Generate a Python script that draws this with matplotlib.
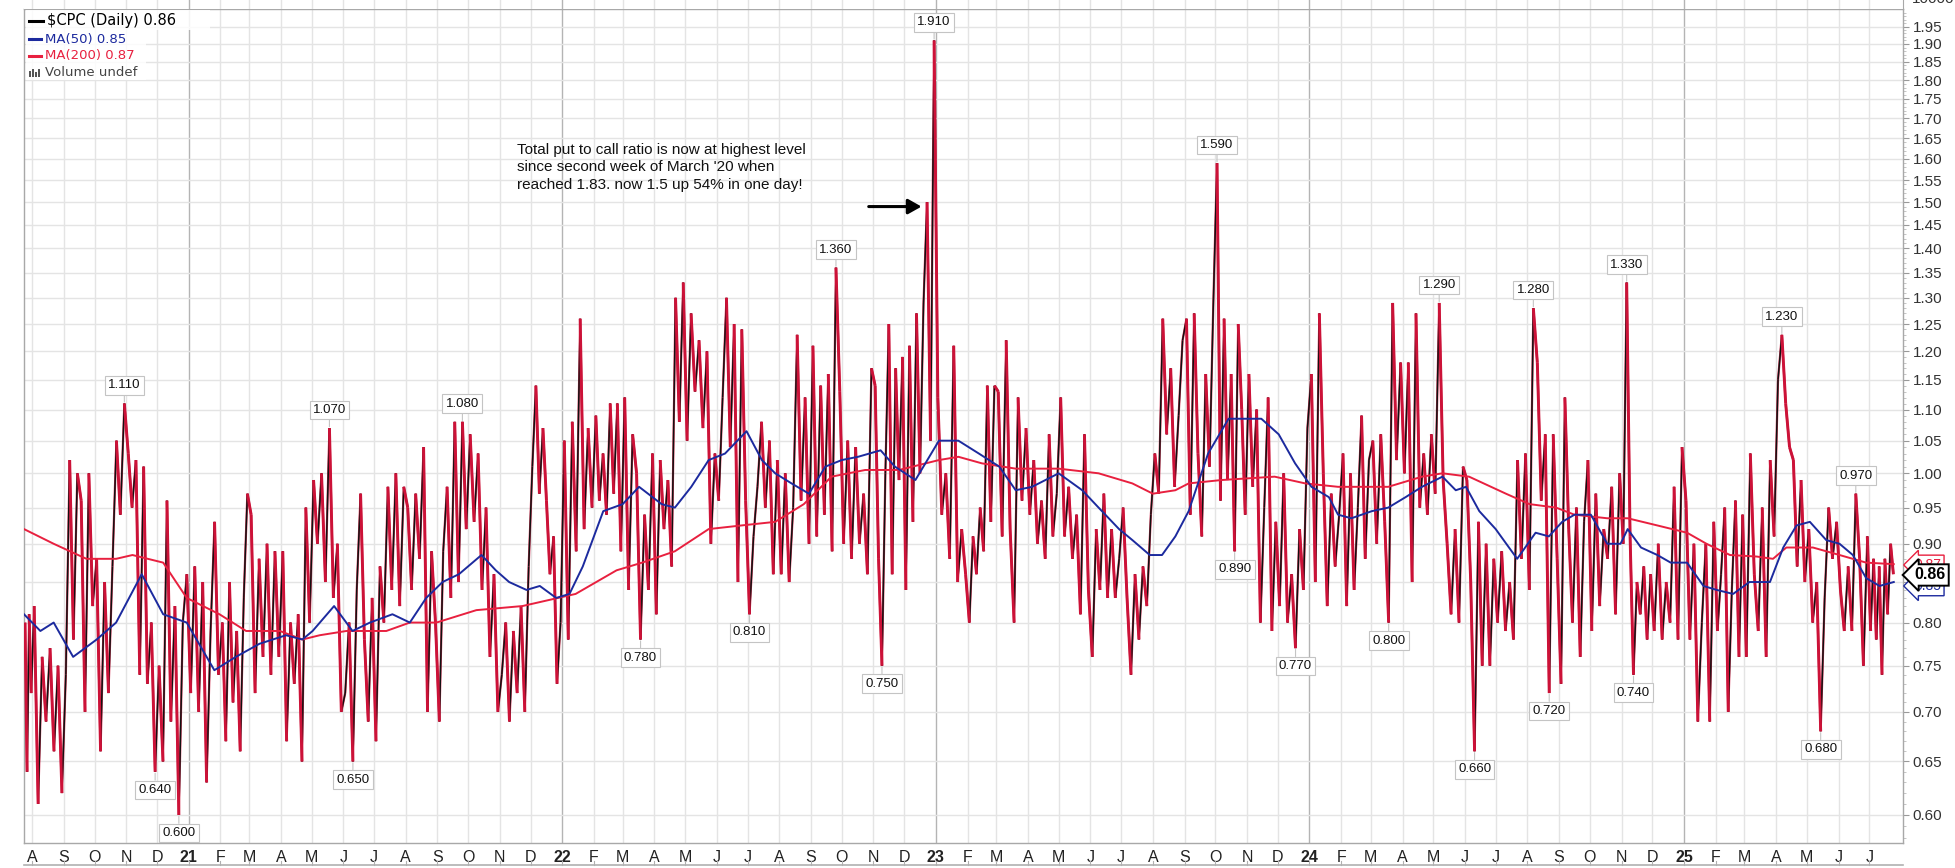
import numpy as np
import pandas as pd
import matplotlib.pyplot as plt
import matplotlib.dates as mdates
import matplotlib.transforms as mtransforms
from matplotlib.collections import LineCollection
from matplotlib.lines import Line2D
from matplotlib.patches import Rectangle
from matplotlib.ticker import FixedLocator, NullFormatter, FuncFormatter

# $CPC daily (one list per month)
first_day = pd.Timestamp('2020-07-24')
last_day = pd.Timestamp('2025-07-26')

cpc_2020 = [
    [0.80, 0.64, 0.81, 0.72],
    [0.82, 0.61, 0.76, 0.69, 0.77, 0.66, 0.75, 0.62],
    [0.74, 1.02, 0.78, 1.00, 0.96, 0.70, 1.00, 0.82],
    [0.88, 0.66, 0.85, 0.72, 0.87, 1.05, 0.94, 1.11],
    [1.03, 0.95, 1.02, 0.74, 1.01, 0.73, 0.80, 0.64],
    [0.75, 0.65, 0.96, 0.69, 0.82, 0.60, 0.80, 0.86],
]
cpc_2021 = [
    [0.72, 0.87, 0.70, 0.85, 0.63, 0.79, 0.93, 0.74],
    [0.80, 0.67, 0.85, 0.71, 0.79, 0.66, 0.83, 0.97],
    [0.94, 0.72, 0.88, 0.76, 0.90, 0.74, 0.89, 0.76],
    [0.89, 0.67, 0.80, 0.73, 0.81, 0.65, 0.95, 0.80],
    [0.99, 0.90, 1.00, 0.85, 1.07, 0.83, 0.90, 0.70],
    [0.72, 0.80, 0.65, 0.84, 0.97, 0.78, 0.69, 0.83],
    [0.67, 0.87, 0.80, 0.98, 0.84, 1.00, 0.82, 0.98],
    [0.95, 0.84, 0.97, 0.88, 1.04, 0.70, 0.89, 0.80],
    [0.69, 0.89, 0.98, 0.83, 1.08, 0.85, 1.08, 0.92],
    [1.06, 0.93, 1.03, 0.84, 0.95, 0.76, 0.86, 0.70],
    [0.74, 0.80, 0.69, 0.79, 0.72, 0.82, 0.70, 0.87],
    [1.01, 1.14, 0.97, 1.07, 0.96, 0.86, 0.91, 0.73, 0.80],
]
cpc_2022 = [
    [1.05, 0.78, 1.08, 0.89, 1.26, 0.92, 1.07, 0.95],
    [1.09, 0.96, 1.03, 0.94, 1.11, 0.97, 1.11, 0.89],
    [1.12, 0.84, 1.06, 1.00, 0.78, 0.94, 0.84, 1.03],
    [0.81, 1.02, 0.92, 0.99, 0.87, 1.30, 1.08, 1.33],
    [1.05, 1.27, 1.13, 1.22, 1.07, 1.20, 0.90, 1.03],
    [0.96, 1.12, 1.30, 1.04, 1.25, 0.85, 1.24, 0.96],
    [0.81, 0.91, 0.98, 1.08, 0.95, 1.05, 0.86, 1.02],
    [0.86, 1.00, 0.85, 0.95, 1.23, 0.96, 1.12, 0.90],
    [1.21, 0.91, 1.14, 0.94, 1.16, 0.89, 1.36, 1.13],
    [0.90, 1.05, 0.88, 1.04, 0.90, 0.97, 0.86, 1.17],
    [1.14, 0.88, 0.75, 1.00, 1.25, 0.86, 1.17, 0.99, 1.19],
    [0.84, 1.21, 0.93, 1.27, 1.00, 1.29, 1.50, 1.05, 1.91],
]
cpc_2023 = [
    [1.12, 0.94, 1.00, 0.88, 1.21, 0.85, 0.92, 0.86],
    [0.80, 0.91, 0.86, 0.95, 0.89, 1.14, 0.93, 1.14],
    [1.13, 0.91, 1.22, 0.92, 0.80, 1.12, 0.96, 1.07],
    [0.94, 1.02, 0.90, 0.96, 0.88, 1.06, 0.91, 0.97],
    [1.12, 0.91, 0.98, 0.88, 0.94, 0.81, 1.06, 0.84],
    [0.76, 0.92, 0.84, 0.97, 0.83, 0.92, 0.83, 0.88],
    [0.95, 0.83, 0.74, 0.86, 0.78, 0.87, 0.82, 0.94],
    [1.03, 0.97, 1.26, 1.06, 1.17, 0.98, 1.09, 1.22],
    [1.26, 0.94, 1.27, 1.03, 0.91, 1.16, 1.01, 1.29],
    [1.59, 0.96, 1.26, 0.99, 1.16, 0.89, 1.25, 1.10, 0.94],
    [1.16, 0.98, 1.10, 0.80, 0.95, 1.12, 0.79, 0.93],
    [0.82, 1.00, 0.80, 0.86, 0.77, 0.92, 0.84, 1.07],
]
cpc_2024 = [
    [1.16, 0.85, 1.27, 1.00, 0.82, 0.97, 0.87, 0.94],
    [1.03, 0.82, 1.00, 0.84, 0.95, 1.09, 0.88, 1.02],
    [1.05, 0.90, 1.06, 0.93, 0.80, 1.29, 1.02, 1.18],
    [1.00, 1.18, 0.85, 1.27, 0.95, 1.03, 0.94, 1.06],
    [0.97, 1.29, 0.99, 0.90, 0.81, 0.92, 0.80, 1.01],
    [0.99, 0.85, 0.66, 0.93, 0.75, 0.90, 0.75, 0.88],
    [0.80, 0.89, 0.79, 0.85, 0.78, 1.02, 0.88, 1.03],
    [0.84, 1.28, 1.18, 0.96, 1.06, 0.72, 1.06, 0.88],
    [0.73, 1.12, 0.92, 0.80, 0.95, 0.76, 0.93, 1.02],
    [0.79, 0.97, 0.82, 0.92, 0.88, 0.98, 0.81, 1.00],
    [0.90, 1.33, 0.91, 0.74, 0.85, 0.81, 0.87, 0.78, 0.86],
    [0.79, 0.90, 0.78, 0.85, 0.80, 0.98, 0.78, 1.04],
]
cpc_2025 = [
    [0.96, 0.78, 0.90, 0.69, 0.80, 0.90, 0.69, 0.93],
    [0.79, 0.86, 0.95, 0.70, 0.84, 0.96, 0.76, 0.94],
    [0.76, 1.03, 0.86, 0.79, 0.95, 0.76, 1.02, 0.91],
    [1.15, 1.23, 1.11, 1.04, 1.02, 0.87, 0.99, 0.85],
    [0.92, 0.80, 0.85, 0.68, 0.83, 0.95, 0.88, 0.93],
    [0.84, 0.79, 0.87, 0.79, 0.97, 0.88, 0.75, 0.91],
    [0.79, 0.88, 0.78, 0.87, 0.74, 0.88, 0.81, 0.90, 0.86],
]

ma50_dates = [
    '2020-07-24', '2020-08-09', '2020-08-22', '2020-09-10', '2020-10-03', '2020-10-22',
    '2020-11-16', '2020-12-07', '2020-12-30', '2021-01-26', '2021-02-16', '2021-03-11',
    '2021-04-06', '2021-04-22', '2021-05-02', '2021-05-23', '2021-06-10', '2021-06-27',
    '2021-07-19', '2021-08-05', '2021-08-21', '2021-09-06', '2021-09-22', '2021-10-14',
    '2021-10-28', '2021-11-10', '2021-11-27', '2021-12-10', '2021-12-26', '2022-01-08',
    '2022-01-21', '2022-02-10', '2022-03-01', '2022-03-17', '2022-04-08', '2022-04-21',
    '2022-05-07', '2022-05-24', '2022-06-09', '2022-06-30', '2022-07-15', '2022-07-28',
    '2022-08-13', '2022-08-30', '2022-09-15', '2022-10-01', '2022-10-17', '2022-11-08',
    '2022-11-22', '2022-12-12', '2023-01-04', '2023-01-23', '2023-02-12', '2023-03-04',
    '2023-03-20', '2023-04-05', '2023-05-01', '2023-05-24', '2023-06-09', '2023-06-29',
    '2023-07-12', '2023-07-29', '2023-08-10', '2023-08-23', '2023-09-05', '2023-09-24',
    '2023-10-14', '2023-11-02', '2023-11-15', '2023-12-02', '2023-12-18', '2024-01-03',
    '2024-01-20', '2024-01-29', '2024-02-11', '2024-03-02', '2024-03-18', '2024-04-04',
    '2024-04-20', '2024-05-10', '2024-05-23', '2024-06-02', '2024-06-15', '2024-07-01',
    '2024-07-14', '2024-07-22', '2024-08-09', '2024-08-22', '2024-09-04', '2024-09-16',
    '2024-10-02', '2024-10-18', '2024-10-31', '2024-11-07', '2024-11-20', '2024-12-06',
    '2024-12-19', '2025-01-04', '2025-01-20', '2025-02-02', '2025-02-18', '2025-03-06',
    '2025-03-26', '2025-04-08', '2025-04-21', '2025-05-04', '2025-05-20', '2025-06-02',
    '2025-06-15', '2025-06-28', '2025-07-11', '2025-07-25',
]
ma50_values = [
    0.81, 0.79, 0.80, 0.76, 0.78, 0.80,
    0.86, 0.81, 0.80, 0.745, 0.76, 0.775,
    0.785, 0.78, 0.79, 0.82, 0.79, 0.80,
    0.81, 0.80, 0.83, 0.85, 0.86, 0.885,
    0.865, 0.85, 0.84, 0.845, 0.83, 0.835,
    0.87, 0.945, 0.955, 0.98, 0.955, 0.95,
    0.98, 1.02, 1.03, 1.065, 1.02, 1.00,
    0.985, 0.97, 1.01, 1.02, 1.025, 1.035,
    1.01, 0.99, 1.05, 1.05, 1.03, 1.01,
    0.975, 0.98, 1.00, 0.975, 0.95, 0.92,
    0.905, 0.885, 0.885, 0.91, 0.945, 1.03,
    1.085, 1.085, 1.085, 1.06, 1.015, 0.98,
    0.965, 0.94, 0.935, 0.945, 0.95, 0.965,
    0.98, 0.995, 0.975, 0.98, 0.945, 0.92,
    0.895, 0.88, 0.915, 0.91, 0.93, 0.94,
    0.94, 0.90, 0.90, 0.92, 0.895, 0.885,
    0.875, 0.875, 0.845, 0.84, 0.835, 0.85,
    0.85, 0.895, 0.925, 0.93, 0.905, 0.90,
    0.885, 0.855, 0.845, 0.85,
]

ma200_dates = [
    '2020-07-24', '2020-08-22', '2020-09-23', '2020-10-22', '2020-11-07', '2020-12-07',
    '2020-12-30', '2021-01-31', '2021-02-26', '2021-03-31', '2021-04-22', '2021-05-09',
    '2021-06-04', '2021-07-13', '2021-08-05', '2021-08-31', '2021-10-09', '2021-11-23',
    '2022-01-14', '2022-02-23', '2022-03-20', '2022-04-21', '2022-05-24', '2022-06-25',
    '2022-07-28', '2022-08-25', '2022-09-21', '2022-10-24', '2022-11-26', '2023-01-04',
    '2023-01-23', '2023-02-15', '2023-03-20', '2023-05-01', '2023-06-09', '2023-07-12',
    '2023-08-01', '2023-08-23', '2023-09-05', '2023-10-07', '2023-11-28', '2023-12-28',
    '2024-01-29', '2024-03-18', '2024-04-20', '2024-05-10', '2024-06-05', '2024-07-11',
    '2024-08-03', '2024-08-29', '2024-09-16', '2024-10-18', '2024-11-07', '2024-12-06',
    '2025-01-04', '2025-01-23', '2025-02-15', '2025-03-13', '2025-03-29', '2025-04-11',
    '2025-05-07', '2025-06-02', '2025-06-28', '2025-07-25',
]
ma200_values = [
    0.92, 0.90, 0.88, 0.88, 0.885, 0.875,
    0.83, 0.81, 0.79, 0.79, 0.78, 0.785,
    0.79, 0.79, 0.80, 0.80, 0.815, 0.82,
    0.835, 0.865, 0.875, 0.89, 0.92, 0.925,
    0.93, 0.955, 0.995, 1.005, 1.005, 1.02,
    1.025, 1.015, 1.007, 1.007, 1.00, 0.985,
    0.97, 0.975, 0.985, 0.99, 0.995, 0.985,
    0.98, 0.98, 0.995, 1.00, 0.995, 0.97,
    0.955, 0.95, 0.94, 0.935, 0.935, 0.925,
    0.915, 0.90, 0.885, 0.883, 0.88, 0.895,
    0.895, 0.885, 0.875, 0.873,
]

# labelled highs / lows
peak_dates = ['2020-10-28', '2020-11-25', '2020-12-21', '2021-05-17', '2021-06-09',
              '2021-09-25', '2022-03-17', '2022-07-03', '2022-09-24', '2022-11-09',
              '2022-12-29', '2023-10-02', '2023-10-20', '2023-12-17', '2024-03-17',
              '2024-05-06', '2024-06-10', '2024-08-05', '2024-08-21', '2024-11-05',
              '2024-11-12', '2025-04-06', '2025-05-13', '2025-06-17']
peak_values = [1.110, 0.640, 0.600, 1.070, 0.650, 1.080, 0.780, 0.810, 1.360, 0.750,
               1.910, 1.590, 0.890, 0.770, 0.800, 1.290, 0.660, 1.280, 0.720, 1.330,
               0.740, 1.230, 0.680, 0.970]
peak_side = ['up', 'down', 'down', 'up', 'down', 'up', 'down', 'down', 'up', 'down',
             'up', 'up', 'down', 'down', 'down', 'up', 'down', 'up', 'down', 'up',
             'down', 'up', 'down', 'up']

note = ("Total put to call ratio is now at highest level\n"
        "since second week of March '20 when\n"
        "reached 1.83. now 1.5 up 54% in one day!")

RED = '#cc1238'
MA_RED = '#e8203f'
BLUE = '#1c2a9e'
GRID = '#e4e4e4'

# build the dated series from the monthly lists
months = pd.date_range('2020-07-01', '2025-07-01', freq='MS')
chunks = cpc_2020 + cpc_2021 + cpc_2022 + cpc_2023 + cpc_2024 + cpc_2025
dates = []
vals = []
for m0, chunk in zip(months, chunks):
    a = max(m0, first_day)
    b = min(m0 + pd.offsets.MonthBegin(1), last_day)
    step = (b - a) / len(chunk)
    for i, v in enumerate(chunk):
        dates.append(a + step * (i + 0.5))
        vals.append(v)
x = mdates.date2num(pd.DatetimeIndex(dates))
y = np.array(vals)

W, H = 1956, 868
fig = plt.figure(figsize=(W / 100, H / 100), dpi=100)
left, right, top, bottom = 24, 1903, 9, 843
ax = fig.add_axes([left / W, 1 - bottom / H, (right - left) / W, (bottom - top) / H])

ax.set_yscale('log')
ax.set_ylim(0.5754, 2.002)
ax.set_xlim(mdates.date2num(pd.Timestamp('2020-07-24')), mdates.date2num(pd.Timestamp('2025-08-03')))

# grid
ticks = pd.date_range('2020-08-01', '2025-07-01', freq='MS')
tnum = mdates.date2num(ticks)
for t, tn in zip(ticks, tnum):
    ax.axvline(tn, color='#b4b4b4' if t.month == 1 else GRID, lw=1, zorder=0)
yt = np.arange(0.60, 1.951, 0.05)
for v in yt:
    ax.axhline(v, color=GRID, lw=1, zorder=0)

# price line, up moves black, down moves red (red drawn heavier, on top)
pts = np.column_stack([x, y])
segs = np.stack([pts[:-1], pts[1:]], axis=1)
up = y[1:] > y[:-1]
ax.add_collection(LineCollection(segs, colors=RED, linewidths=1.6, zorder=2, alpha=0.85))
ax.add_collection(LineCollection(segs[up], colors='#111111', linewidths=1.1, zorder=2.5))
ax.add_collection(LineCollection(segs[~up], colors=RED, linewidths=2.1, zorder=3))

ax.plot(mdates.date2num(pd.DatetimeIndex(ma200_dates)), ma200_values, color=MA_RED, lw=1.4, zorder=4)
ax.plot(mdates.date2num(pd.DatetimeIndex(ma50_dates)), ma50_values, color=BLUE, lw=1.4, zorder=5)

# peak labels
for d, v, side in zip(peak_dates, peak_values, peak_side):
    dn = mdates.date2num(pd.Timestamp(d))
    near = np.where(np.abs(x - dn) <= 14)[0]
    k = near[np.argmin(np.abs(y[near] - v) + 1e-4 * np.abs(x[near] - dn))]
    off = 13 if side == 'up' else -13
    ax.annotate(f'{v:.3f}', xy=(x[k], y[k]), xytext=(0, off), textcoords='offset points',
                ha='center', va='center', fontsize=9.5, family='Liberation Sans', color='#111111',
                bbox=dict(boxstyle='square,pad=0.25', fc='white', ec='#c4c4c4', lw=0.8),
                arrowprops=dict(arrowstyle='-', color='#c4c4c4', lw=0.8, shrinkA=0, shrinkB=1),
                zorder=6)

# comment and arrow to the 1.5 spike
k15 = int(np.argmin(np.abs(x - mdates.date2num(pd.Timestamp('2022-12-24'))) + 10 * np.abs(y - 1.50)))
ax.annotate('', xy=(x[k15], 1.49), xytext=(-42, 0), textcoords='offset points',
            arrowprops=dict(arrowstyle='-|>,head_length=0.8,head_width=0.45', color='black',
                            lw=2.2, shrinkA=0, shrinkB=4), zorder=7)
fig.text(517 / W, 1 - 143 / H, note, ha='left', va='top', fontsize=11,
         family='Liberation Sans', color='#111111', linespacing=1.3)

# x labels
labels = [f'{t.year % 100}' if t.month == 1 else 'JFMAMJJASOND'[t.month - 1] for t in ticks]
ax.set_xticks(tnum)
ax.set_xticklabels(labels)
for lab, t in zip(ax.get_xticklabels(), ticks):
    lab.set_family('Liberation Sans')
    if t.month == 1:
        lab.set_fontweight('bold')
ax.tick_params(axis='x', length=0, pad=5, labelsize=11.5, labelcolor='#222222')

# y labels on the right
ax.yaxis.tick_right()
ax.yaxis.set_major_locator(FixedLocator(yt))
ax.yaxis.set_major_formatter(FuncFormatter(lambda v, p: f'{v:.2f}'))
ax.yaxis.set_minor_locator(FixedLocator(np.arange(0.58, 2.0, 0.01)))
ax.yaxis.set_minor_formatter(NullFormatter())
ax.tick_params(axis='y', which='major', length=4, color='#999999', pad=3, labelsize=11,
               labelcolor='#333333')
ax.tick_params(axis='y', which='minor', length=2, color='#bbbbbb')
for lab in ax.get_yticklabels():
    lab.set_family('Liberation Sans')
for s in ax.spines.values():
    s.set_color('#a8a8a8')
    s.set_linewidth(1)

# last value tags (they sit on top of each other, as on the original)
bt = mtransforms.blended_transform_factory(ax.transAxes, ax.transData)
ax.text(1.006, 0.872, '0.87', transform=bt, ha='left', va='center', fontsize=10, color=MA_RED,
        family='Liberation Sans',
        bbox=dict(boxstyle='larrow,pad=0.2', fc='white', ec=MA_RED, lw=1), zorder=8, clip_on=False)
ax.text(1.006, 0.845, '0.85', transform=bt, ha='left', va='center', fontsize=10, color=BLUE,
        family='Liberation Sans',
        bbox=dict(boxstyle='larrow,pad=0.2', fc='white', ec=BLUE, lw=1), zorder=8, clip_on=False)
ax.text(1.006, 0.859, '0.86', transform=bt, ha='left', va='center', fontsize=11.5, color='black',
        family='Liberation Sans', fontweight='bold',
        bbox=dict(boxstyle='larrow,pad=0.2', fc='white', ec='black', lw=1.4), zorder=9, clip_on=False)

# strip of the panel above
ax_top = fig.add_axes([left / W, 1 - top / H, (right - left) / W, top / H])
ax_top.set_xlim(ax.get_xlim())
ax_top.set_ylim(0, 1)
for t, tn in zip(ticks, tnum):
    ax_top.axvline(tn, color='#b4b4b4' if t.month == 1 else GRID, lw=1)
ax_top.set_xticks([])
ax_top.set_yticks([])
for s in ax_top.spines.values():
    s.set_visible(False)
ax_top.spines['right'].set_visible(True)
ax_top.spines['right'].set_color('#a8a8a8')
fig.text(1912 / W, 1 + 1 / H, '10000', ha='left', va='center', fontsize=11,
         family='Liberation Sans', color='#333333')

# bottom rule with small ticks
fb = mtransforms.blended_transform_factory(ax.transData, fig.transFigure)
fig.add_artist(Line2D([left / W, right / W], [3 / H, 3 / H], color='#b0b0b0', lw=1.2))
for tn in tnum:
    fig.add_artist(Line2D([tn, tn], [3 / H, 7 / H], transform=fb, color='#b0b0b0', lw=0.8))

# legend
legend_rows = [('$CPC (Daily) 0.86', 'black', 10.5, 21),
               ('MA(50) 0.85', BLUE, 9.5, 39),
               ('MA(200) 0.87', MA_RED, 9.5, 56)]
fig.add_artist(Rectangle((26 / W, 1 - 80 / H), 120 / W, 70 / H, fc='white', ec='none', alpha=0.85))
fig.add_artist(Rectangle((140 / W, 1 - 30 / H), 70 / W, 20 / H, fc='white', ec='none', alpha=0.85))
for i, (txt, col, fs, py) in enumerate(legend_rows):
    x0 = 47 if i == 0 else 45
    fig.add_artist(Line2D([29 / W, (x0 - 4) / W], [1 - py / H, 1 - py / H], color=col, lw=2.2))
    fig.text(x0 / W, 1 - py / H, txt, ha='left', va='center', fontsize=fs, color=col,
             family='DejaVu Sans')
for bx, bh in [(29, 6), (32, 8), (35, 5), (38, 8)]:
    fig.add_artist(Rectangle((bx / W, 1 - 77 / H), 2 / W, bh / H, fc='#555555', ec='none'))
fig.text(45 / W, 1 - 72 / H, 'Volume undef', ha='left', va='center', fontsize=9.5,
         color='#444444', family='DejaVu Sans')

fig.savefig('out.png', dpi=100)
